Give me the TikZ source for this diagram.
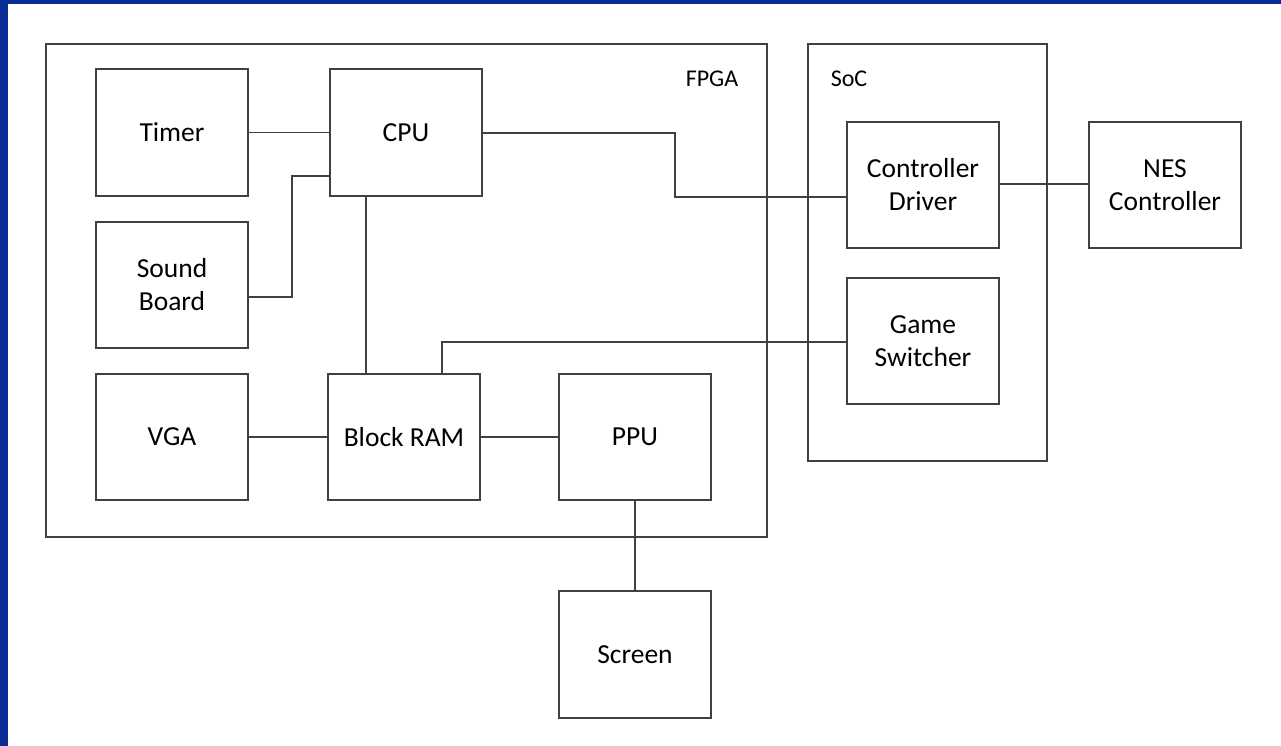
\documentclass[tikz,border=0pt]{standalone}
\usepackage{fontspec}
\setmainfont{Carlito}
\definecolor{slideblue}{RGB}{8,45,150}
\begin{document}
\begin{tikzpicture}[x=1pt,y=-1pt,
  blk/.style={draw=black!75, line width=1.3pt, fill=white, inner sep=0pt, align=center, font=\fontsize{27.5}{33}\selectfont},
  frame/.style={draw=black!75, line width=1.3pt},
  wire/.style={draw=black!75, line width=1.3pt},
  lbl/.style={font=\fontsize{24}{28}\selectfont, inner sep=0pt}]
\useasboundingbox (0,0) rectangle (1281,746);
\fill[white] (0,0) rectangle (1281,746);
\fill[slideblue] (0,0) rectangle (8,746);
\fill[slideblue] (0,0) rectangle (1281,4);
% frames
\draw[frame] (46,44) rectangle (767,537);
\draw[frame] (808,44) rectangle (1047,461);
\node[lbl] (fpga) at (712,79) {FPGA};
\node[lbl] (soc) at (849,79) {SoC};
% blocks
\node[blk, minimum width=152, minimum height=127] (timer) at (172,132.5) {Timer};
\node[blk, minimum width=152, minimum height=127] (cpu) at (406,132.5) {CPU};
\node[blk, minimum width=152, minimum height=126] (sound) at (172,285) {Sound\\Board};
\node[blk, minimum width=152, minimum height=126] (vga) at (172,437) {VGA};
\node[blk, minimum width=152, minimum height=126] (bram) at (404,437) {Block RAM};
\node[blk, minimum width=152, minimum height=126] (ppu) at (635,437) {PPU};
\node[blk, minimum width=152, minimum height=127] (screen) at (635,654.5) {Screen};
\node[blk, minimum width=152, minimum height=126] (ctrl) at (923,185) {Controller\\Driver};
\node[blk, minimum width=152, minimum height=126] (game) at (923,341) {Game\\Switcher};
\node[blk, minimum width=152, minimum height=126] (nes) at (1165,185) {NES\\Controller};
% connectors
\draw[wire] (timer.east) -- (timer.east -| cpu.west);
\coordinate (sbA) at (292,297);
\coordinate (sbB) at (292,176);
\draw[wire] (sound.east |- sbA) -- (sbA) -- (sbB) -- (sbB -| cpu.west);
\coordinate (cb) at (366,0);
\draw[wire] (cb |- cpu.south) -- (cb |- bram.north);
\coordinate (cdA) at (675,133);
\coordinate (cdB) at (675,197);
\draw[wire] (cpu.east |- cdA) -- (cdA) -- (cdB) -- (cdB -| ctrl.west);
\draw[wire] (ctrl.east |- 0,184) -- (nes.west |- 0,184);
\coordinate (gsA) at (442,342);
\draw[wire] (game.west |- gsA) -- (gsA) -- (gsA |- bram.north);
\draw[wire] (vga.east) -- (bram.west);
\draw[wire] (bram.east) -- (ppu.west);
\draw[wire] (ppu.south) -- (screen.north);
\end{tikzpicture}
\end{document}
